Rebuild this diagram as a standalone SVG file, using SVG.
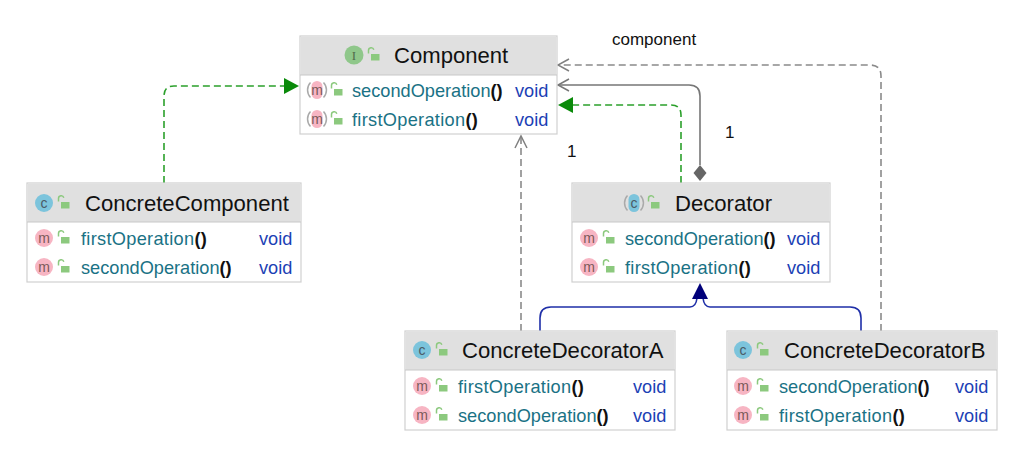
<svg xmlns="http://www.w3.org/2000/svg" width="1024" height="450" viewBox="0 0 1024 450">
<style>
text{font-family:"Liberation Sans",Arial,sans-serif}
.box{fill:#fff;stroke:#d0d0d0;stroke-width:1.2}
.hd{fill:#e0e0e0}
.sep{stroke:#c8c8c8;stroke-width:1.2}
.title{font-size:22.100px;fill:#111}
.m{font-size:18.200px;fill:#1a7285}
.f{letter-spacing:.3px}
.p{font-weight:bold;fill:#111}
.v{font-size:18.200px;fill:#1c3fb5}
.lbl{font-size:17px;fill:#111}
.ic{font-size:14px;text-anchor:middle}
.conn{fill:none;stroke-width:1.6}
.dg{stroke:#8a8a8a;stroke-dasharray:7 4}
.gd{stroke:#2ba02b;stroke-dasharray:7 4}
.sg{stroke:#777}
.bl{stroke:#1f2fa8}
</style>
<defs>
<g id="lock"><path d="M-5.500-1.500v-3a2.700 2.700 0 0 1 5.300-.8" fill="none" stroke="#8cc97e" stroke-width="1.500"/><rect x="-3" y="-1" width="8.500" height="6.500" fill="#8cc97e"/></g>
<g id="mi"><circle r="9" fill="#f7b5c3"/><text class="ic" y="4.500" fill="#7a5a5a">m</text></g>
<g id="ci"><circle r="9" fill="#7cc4dc"/><text class="ic" y="4.500" fill="#4a5a66">c</text></g>
<g id="mr"><rect x="-5.500" y="-9" width="11" height="18" rx="5.500" fill="#f7b5c3"/><path d="M-6.500-7.500a11 11 0 0 0 0 15M6.500-7.500a11 11 0 0 1 0 15" fill="none" stroke="#aaa" stroke-width="1.500"/><text class="ic" y="4.500" fill="#7a5a5a">m</text></g>
<g id="cr"><rect x="-5.500" y="-9" width="11" height="18" rx="5.500" fill="#7cc4dc"/><path d="M-6.500-7.500a11 11 0 0 0 0 15M6.500-7.500a11 11 0 0 1 0 15" fill="none" stroke="#aaa" stroke-width="1.500"/><text class="ic" y="4.500" fill="#4a5a66">c</text></g>
</defs>

<g id="connectors">
<path class="conn gd" d="M164 183V96Q164 86 174 86H284"/>
<path d="M299 86L284 78V94z" fill="#0a8a0a"/>
<path class="conn dg" d="M521 331V137"/>
<path d="M515 148L521 136L527 148" fill="none" stroke="#808080" stroke-width="1.500"/>
<path class="conn gd" d="M681 183V115Q681 105 671 105H573"/>
<path d="M558 105L573 97V113z" fill="#0a8a0a"/>
<path class="conn sg" d="M700 165V96Q700 85 689 85H558"/>
<path d="M569 79L558 85L569 91" fill="none" stroke="#777" stroke-width="1.500"/>
<path d="M700 165L706.500 173L700 181L693.500 173z" fill="#666"/>
<path class="conn dg" d="M881 331V76Q881 65 870 65H558"/>
<path d="M569 59L558 65L569 71" fill="none" stroke="#808080" stroke-width="1.500"/>
<path class="conn bl" d="M540 331V318Q540 307 551 307H690Q696 307 697 298"/>
<path class="conn bl" d="M861 331V318Q861 307 850 307H710Q704 307 703 298"/>
<path d="M700 283L692 299H708z" fill="#00007a"/>
<text class="lbl" x="612" y="44.500">component</text>
<text class="lbl" x="725" y="137.500">1</text>
<text class="lbl" x="567" y="156.500">1</text>
</g>

<g id="Component">
<rect class="box" x="300" y="36" width="257" height="98"/><rect class="hd" x="300.600" y="36.600" width="255.800" height="38.400"/><path class="sep" d="M300 75H557"/>
<circle cx="354" cy="55" r="9.500" fill="#8fc78a"/><text class="ic" x="354" y="60" fill="#4f6b4a" style="font-family:'Liberation Serif',serif;font-size:13px">I</text><use href="#lock" x="374" y="55"/>
<text class="title" x="394" y="63">Component</text>
<use href="#mr" x="317" y="90"/><use href="#lock" x="337" y="90"/>
<text class="m" x="352" y="96.500">secondOperation<tspan class="p">()</tspan></text><text class="v" x="515" y="96.500">void</text>
<use href="#mr" x="317" y="119"/><use href="#lock" x="337" y="119"/>
<text class="m f" x="352" y="125.500">firstOperation<tspan class="p">()</tspan></text><text class="v" x="515" y="125.500">void</text>
</g>

<g id="ConcreteComponent">
<rect class="box" x="27" y="183" width="274" height="99"/><rect class="hd" x="27.600" y="183.600" width="272.800" height="38.400"/><path class="sep" d="M27 222H301"/>
<use href="#ci" x="44" y="203"/><use href="#lock" x="64" y="203"/>
<text class="title" x="85" y="211">ConcreteComponent</text>
<use href="#mi" x="44" y="238"/><use href="#lock" x="64" y="238"/>
<text class="m f" x="81" y="244.500">firstOperation<tspan class="p">()</tspan></text><text class="v" x="259" y="244.500">void</text>
<use href="#mi" x="44" y="267"/><use href="#lock" x="64" y="267"/>
<text class="m" x="81" y="273.500">secondOperation<tspan class="p">()</tspan></text><text class="v" x="259" y="273.500">void</text>
</g>

<g id="Decorator">
<rect class="box" x="572" y="183" width="258" height="99"/><rect class="hd" x="572.600" y="183.600" width="256.800" height="38.400"/><path class="sep" d="M572 222H830"/>
<use href="#cr" x="634" y="203"/><use href="#lock" x="654" y="203"/>
<text class="title" x="675" y="211">Decorator</text>
<use href="#mi" x="589" y="238"/><use href="#lock" x="609" y="238"/>
<text class="m" x="625" y="244.500">secondOperation<tspan class="p">()</tspan></text><text class="v" x="787" y="244.500">void</text>
<use href="#mi" x="589" y="267"/><use href="#lock" x="609" y="267"/>
<text class="m f" x="625" y="273.500">firstOperation<tspan class="p">()</tspan></text><text class="v" x="787" y="273.500">void</text>
</g>

<g id="ConcreteDecoratorA">
<rect class="box" x="405" y="331" width="270" height="99"/><rect class="hd" x="405.600" y="331.600" width="268.800" height="38.400"/><path class="sep" d="M405 370H675"/>
<use href="#ci" x="422" y="350"/><use href="#lock" x="442" y="350"/>
<text class="title" x="462" y="358">ConcreteDecoratorA</text>
<use href="#mi" x="422" y="386"/><use href="#lock" x="442" y="386"/>
<text class="m f" x="458" y="392.500">firstOperation<tspan class="p">()</tspan></text><text class="v" x="633" y="392.500">void</text>
<use href="#mi" x="422" y="415"/><use href="#lock" x="442" y="415"/>
<text class="m" x="458" y="421.500">secondOperation<tspan class="p">()</tspan></text><text class="v" x="633" y="421.500">void</text>
</g>

<g id="ConcreteDecoratorB">
<rect class="box" x="727" y="331" width="270" height="99"/><rect class="hd" x="727.600" y="331.600" width="268.800" height="38.400"/><path class="sep" d="M727 370H997"/>
<use href="#ci" x="743" y="350"/><use href="#lock" x="763" y="350"/>
<text class="title" x="784" y="358">ConcreteDecoratorB</text>
<use href="#mi" x="743" y="386"/><use href="#lock" x="763" y="386"/>
<text class="m" x="779" y="392.500">secondOperation<tspan class="p">()</tspan></text><text class="v" x="955" y="392.500">void</text>
<use href="#mi" x="743" y="415"/><use href="#lock" x="763" y="415"/>
<text class="m f" x="779" y="421.500">firstOperation<tspan class="p">()</tspan></text><text class="v" x="955" y="421.500">void</text>
</g>
</svg>
